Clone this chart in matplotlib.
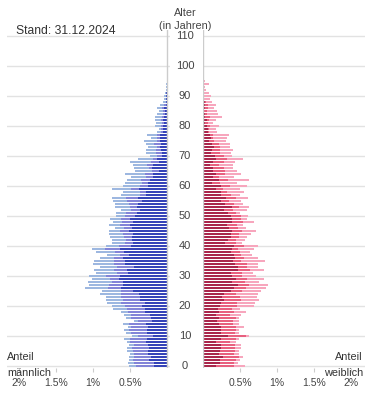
import numpy as np
import matplotlib.pyplot as plt
from matplotlib.transforms import blended_transform_factory

plt.rcParams['font.family'] = ['Liberation Sans', 'DejaVu Sans']

# share of total population in %, by age 0..100
ages = np.arange(0, 101)

male_dark = [.18, .18, .24, .22, .26, .26, .24, .26, .28, .27,
             .19, .27, .27, .26, .28, .20, .22, .23, .30, .30,
             .34, .30, .36, .36, .38, .46, .62, .59, .59, .65,
             .64, .53, .54, .45, .57, .57, .59, .51, .58, .64,
             .49, .46, .47, .47, .46, .51, .47, .50, .46, .50,
             .43, .41, .36, .41, .39, .34, .39, .28, .28, .38,
             .26, .26, .23, .19, .19, .11, .20, .19, .11, .14,
             .07, .07, .08, .09, .08, .09, .09, .09, .05, .05,
             .05, .04, .05, .04, .03, .03, .04, .02, .01, .01,
             .01, .01, 0, 0, 0, 0, 0, 0, 0, 0, 0]
male_mid = [.24, .26, .22, .22, .19, .20, .23, .18, .22, .23,
            .20, .22, .24, .22, .23, .19, .26, .26, .23, .24,
            .23, .32, .23, .26, .24, .16, .18, .19, .16, .12,
            .18, .15, .18, .23, .15, .15, .12, .12, .12, .20,
            .16, .11, .08, .11, .14, .12, .11, .14, .15, .12,
            .14, .14, .12, .09, .12, .20, .16, .08, .08, .11,
            .11, .08, .12, .09, .11, .09, .05, .08, .11, .05,
            .07, .08, .07, .05, .09, .04, .05, .04, .03, .03,
            .03, .03, .03, .03, .03, .03, .03, .02, .01, .01,
            .01, .01, 0, 0, 0, 0, 0, 0, 0, 0, 0]
male_light = [.09, .09, .05, .07, .05, .08, .07, .07, .04, .08,
              .08, .07, .07, .05, .08, .05, .08, .09, .09, .19,
              .18, .19, .23, .20, .28, .26, .31, .28, .32, .24,
              .24, .28, .26, .22, .28, .27, .20, .18, .26, .18,
              .18, .18, .19, .19, .19, .16, .12, .15, .12, .15,
              .12, .14, .14, .20, .19, .19, .20, .26, .24, .26,
              .23, .23, .19, .20, .27, .23, .20, .19, .28, .20,
              .09, .14, .14, .11, .12, .18, .08, .14, .05, .03,
              .08, .08, .08, .09, .07, .05, .07, .05, .04, .02,
              .02, .01, .01, .01, .01, 0, 0, 0, 0, 0, 0]

female_dark = [.18, .23, .23, .27, .22, .23, .24, .24, .18, .24,
               .34, .24, .24, .24, .22, .19, .22, .18, .22, .20,
               .23, .24, .28, .26, .28, .38, .42, .47, .39, .45,
               .39, .38, .47, .47, .43, .41, .43, .42, .38, .39,
               .42, .30, .34, .38, .38, .39, .35, .32, .39, .39,
               .38, .34, .28, .39, .30, .24, .31, .24, .24, .18,
               .24, .12, .22, .14, .18, .14, .14, .09, .14, .18,
               .16, .11, .12, .15, .12, .08, .11, .09, .07, .07,
               .05, .03, .05, .03, .03, .01, .03, .03, .03, .01,
               .01, .01, 0, 0, .01, 0, 0, 0, 0, 0, 0]
female_mid = [.24, .19, .22, .22, .20, .20, .19, .19, .19, .20,
              .24, .19, .20, .20, .18, .22, .22, .19, .20, .19,
              .23, .22, .24, .24, .16, .15, .16, .15, .18, .14,
              .14, .15, .16, .12, .16, .11, .12, .09, .12, .08,
              .14, .14, .11, .11, .11, .14, .12, .14, .15, .12,
              .14, .11, .12, .09, .12, .11, .14, .14, .08, .09,
              .12, .11, .12, .08, .12, .16, .14, .12, .14, .14,
              .12, .12, .11, .08, .09, .07, .03, .04, .01, .01,
              .04, .04, .03, .07, .03, .04, .04, .04, .01, .01,
              .01, .01, 0, 0, 0, 0, 0, 0, 0, 0, 0]
female_light = [.15, .05, .05, .05, .07, .05, .09, .09, .07, .04,
                .04, .05, .05, .11, .08, .08, .05, .14, .16, .11,
                .23, .24, .23, .23, .30, .26, .27, .26, .19, .24,
                .18, .14, .20, .15, .15, .32, .19, .15, .14, .22,
                .18, .09, .12, .11, .16, .18, .11, .08, .15, .09,
                .09, .05, .19, .14, .12, .16, .16, .12, .24, .23,
                .23, .23, .28, .20, .22, .16, .12, .20, .15, .22,
                .11, .15, .18, .14, .16, .16, .19, .22, .11, .09,
                .12, .07, .09, .16, .14, .14, .08, .11, .08, .08,
                .09, .06, .04, .03, .07, .03, 0, .01, .01, 0, 0]

x_ticks = [0.5, 1, 1.5, 2]
x_labels = ['0.5%', '1%', '1.5%', '2%']
age_ticks = list(range(0, 111, 10))

blue = ['#3543b8', '#8384d8', '#9db7e0']
red = ['#a9264b', '#e8607f', '#f7a6bd']

W, H = 375, 416
fig = plt.figure(figsize=(W / 100, H / 100), dpi=100)


def box(x0, x1, y0, y1):
    return [x0 / W, 1 - y1 / H, (x1 - x0) / W, (y1 - y0) / H]


ymin, ymax = -0.8, 112
ytop, ybot = 366 - 3 * ymax, 366 - 3 * ymin
axL = fig.add_axes(box(7, 170, ytop, ybot))
axR = fig.add_axes(box(203, 365, ytop, ybot))

for ax, parts, cols in [(axL, [male_dark, male_mid, male_light], blue),
                        (axR, [female_dark, female_mid, female_light], red)]:
    left = np.zeros(len(ages))
    for vals, c in zip(parts, cols):
        ax.barh(ages, vals, left=left, height=0.75, color=c, zorder=2)
        left = left + np.array(vals)
    for a in age_ticks:
        ax.axhline(a, color='#e2e2e2', lw=1, zorder=0)
    ax.axvline(0, color='#cccccc', lw=1, zorder=3)
    ax.set_ylim(ymin, ymax)
    ax.set_yticks([])
    ax.set_xticks(x_ticks)
    ax.set_xticklabels(x_labels)
    ax.tick_params(axis='x', length=3, color='#cccccc', labelcolor='#444444',
                   labelsize=7.5, pad=4)
    for s in ax.spines.values():
        s.set_visible(False)
    ax.patch.set_alpha(0)

axL.set_xlim((167 - 7) / 74, -3 / 74)
axR.set_xlim(0, 162 / 74)

tr = blended_transform_factory(fig.transFigure, axL.transData)
for a in age_ticks:
    fig.text(185 / W, a, str(a), transform=tr, ha='center', va='center',
             fontsize=8, color='#444444')

def ftext(x, y, s, **kw):
    fig.text(x / W, 1 - y / H, s, va='center', **kw)

ftext(185, 13, 'Alter', ha='center', fontsize=7.8, color='#444444')
ftext(185, 26, '(in Jahren)', ha='center', fontsize=7.8, color='#444444')
ftext(16, 31, 'Stand: 31.12.2024', ha='left', fontsize=8.7, color='#333333')
ftext(7, 357, 'Anteil', ha='left', fontsize=7.8, color='#333333')
ftext(7, 373, 'männlich', ha='left', fontsize=7.8, color='#333333')
ftext(363, 357, 'Anteil', ha='right', fontsize=7.8, color='#333333')
ftext(363, 373, 'weiblich', ha='right', fontsize=7.8, color='#333333')

fig.savefig('out.png', dpi=100)
